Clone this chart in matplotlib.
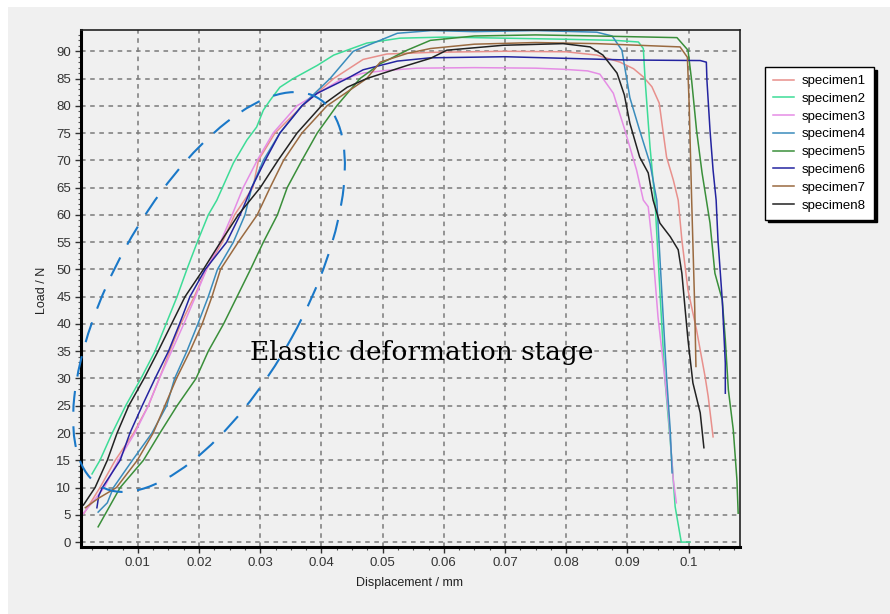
import matplotlib
matplotlib.use("Agg")
import matplotlib.pyplot as plt
from matplotlib.patches import Ellipse, Rectangle
from matplotlib.transforms import IdentityTransform
from matplotlib.ticker import MultipleLocator

# ---------------- data ----------------
labels = ["specimen1", "specimen2", "specimen3", "specimen4",
          "specimen5", "specimen6", "specimen7", "specimen8"]
colors = ["#e8908c", "#3ddc97", "#e58de5", "#3a8cbc",
          "#3a8f3a", "#2424a0", "#9a6a40", "#222222"]

x1 = [0.0012, 0.0038, 0.0063, 0.0093, 0.0117, 0.0135, 0.0152, 0.017, 0.0192, 0.0212, 0.0238, 0.0258,
      0.0288, 0.0297, 0.0324, 0.0369, 0.042, 0.0468, 0.0507, 0.058, 0.07, 0.08, 0.085, 0.0888, 0.091,
      0.0926, 0.094, 0.0952, 0.0958, 0.0964, 0.0975, 0.0983, 0.0989, 0.0999, 0.1013, 0.1027, 0.1032, 0.104]
y1 = [5.3, 10, 15, 20, 25, 30, 35, 40, 45, 50, 55, 60,
      65, 70, 75, 80, 85, 88.5, 89.5, 89.8, 90, 89.9, 89.3, 88, 86.8,
      85.3, 83.5, 80.5, 75.5, 70.6, 66.4, 62.7, 55.4, 46.2, 38.9, 30.3, 26.7, 19.3]

x2 = [0.0025, 0.0038, 0.0058, 0.008, 0.0105, 0.0128, 0.0146, 0.0164, 0.018, 0.0197, 0.0215, 0.0229,
      0.0256, 0.0278, 0.0294, 0.0305, 0.0316, 0.0332, 0.0354, 0.0393, 0.042, 0.0474, 0.0528, 0.06,
      0.07, 0.08, 0.088, 0.0918, 0.0926, 0.0929, 0.0937, 0.0945, 0.0953, 0.0961, 0.0973, 0.0978,
      0.0988, 0.1002]
y2 = [12.5, 15, 20, 25, 30, 35, 40, 45, 50, 55, 60, 62.7,
      69.5, 73.7, 76.1, 79.2, 81, 83.4, 85, 87.4, 89.3, 91.5, 92.4, 92.6,
      92.4, 92.2, 92, 91.7, 90.5, 84.6, 72.4, 62.7, 46.2, 30.3, 14.5, 6.5,
      0, 0]

x3 = [0.0009, 0.0045, 0.0068, 0.0095, 0.0117, 0.0135, 0.0155, 0.0175, 0.0194, 0.0212, 0.0235, 0.0254,
      0.0272, 0.0295, 0.0321, 0.036, 0.043, 0.0468, 0.0507, 0.0556, 0.065, 0.075, 0.0795, 0.0835,
      0.0855, 0.0877, 0.0896, 0.0915, 0.0926, 0.0934, 0.094, 0.095, 0.0961, 0.0967, 0.0975, 0.098]
y3 = [5, 10, 15, 20, 25, 30, 35, 40, 45, 50, 55, 60,
      65, 70, 75, 80, 84.7, 86, 86.5, 86.9, 87, 86.9, 86.7, 86.4,
      85.8, 82.3, 75.5, 68.2, 62.7, 61.5, 55.4, 41.3, 30.3, 23.7, 11.4, 7.2]

x4 = [0.0035, 0.005, 0.006, 0.0091, 0.0123, 0.0147, 0.016, 0.018, 0.0198, 0.0215, 0.023, 0.0256,
      0.0275, 0.0286, 0.0305, 0.0332, 0.0368, 0.0414, 0.0452, 0.0524, 0.058, 0.065, 0.075, 0.085,
      0.0875, 0.0891, 0.0904, 0.092, 0.0937, 0.0948, 0.095, 0.0956, 0.0964, 0.097, 0.0973]
y4 = [5.5, 7.2, 10, 15, 20, 25, 30, 35, 40, 45, 50, 55,
      60, 65, 70, 75, 80, 85, 90, 93.3, 93.8, 93.6, 93.8, 93.5,
      92.8, 90.2, 81.5, 75.5, 69.4, 62.7, 58.5, 46.2, 30.3, 20.5, 12.7]

x5 = [0.0035, 0.0071, 0.0109, 0.0136, 0.0164, 0.0195, 0.0215, 0.024, 0.0262, 0.0284, 0.0305, 0.0328,
      0.0344, 0.0368, 0.0393, 0.0425, 0.0463, 0.0496, 0.054, 0.0578, 0.065, 0.075, 0.085, 0.0981,
      0.0999, 0.1005, 0.1013, 0.1022, 0.1035, 0.1043, 0.1055, 0.106, 0.1065, 0.1073, 0.1079, 0.1081]
y5 = [2.8, 10, 15, 20, 25, 30, 35, 40, 45, 50, 55, 60,
      65, 70, 75, 80, 85, 87.7, 90.2, 92, 92.8, 93, 92.8, 92.5,
      90.2, 84.6, 75.5, 67.7, 58.5, 49.3, 44.4, 37.1, 27.9, 20.6, 11.4, 5.3]

x6 = [0.0033, 0.0036, 0.0042, 0.0071, 0.0087, 0.0107, 0.0128, 0.015, 0.0168, 0.0185, 0.021, 0.0245,
      0.0267, 0.0286, 0.0308, 0.0332, 0.0368, 0.0393, 0.0442, 0.0468, 0.0524, 0.0578, 0.07, 0.08, 0.09,
      0.1019, 0.1029, 0.103, 0.1035, 0.104, 0.1045, 0.1048, 0.1055, 0.106, 0.106]
y6 = [6.3, 8.5, 10, 15, 20, 25, 30, 35, 40, 45, 50, 55,
      60, 65, 70, 75, 80, 82.3, 85, 86.6, 88.2, 88.8, 89, 88.7, 88.4,
      88.3, 88, 84.6, 75.5, 68.2, 62.7, 55.4, 44.4, 32.8, 27.3]

x7 = [0.0014, 0.0035, 0.0065, 0.0099, 0.0125, 0.0144, 0.0163, 0.0185, 0.0205, 0.0221, 0.0235, 0.0264,
      0.0295, 0.0316, 0.0338, 0.0368, 0.0409, 0.0474, 0.0496, 0.054, 0.0578, 0.065, 0.075, 0.085,
      0.0986, 0.0998, 0.1001, 0.1005, 0.101, 0.1012]
y7 = [6.3, 8, 10, 15, 20, 25, 30, 35, 40, 45, 50, 55,
      60, 65, 70, 75, 80, 85, 88, 89.6, 90.5, 91.3, 91.6, 91.4,
      90.8, 88.9, 80, 62.7, 43, 32.2]

x8 = [0.0011, 0.003, 0.005, 0.0066, 0.0085, 0.011, 0.0133, 0.0155, 0.0177, 0.0207, 0.0235, 0.0264,
      0.03, 0.0329, 0.036, 0.04, 0.0442, 0.0474, 0.054, 0.0578, 0.0605, 0.0697, 0.0795, 0.0839, 0.086,
      0.0883, 0.0895, 0.0904, 0.092, 0.0934, 0.0942, 0.0953, 0.097, 0.0983, 0.0989, 0.0994, 0.0999,
      0.1007, 0.1019, 0.1025]
y8 = [6.8, 10, 15, 20, 25, 30, 35, 40, 45, 50, 55, 60,
      65, 70, 75, 80, 83.4, 85, 87.4, 88.7, 90.2, 91.1, 91.4, 90.8, 89.3,
      86, 82, 76.8, 70.6, 67.7, 62.7, 58.5, 56, 53.6, 49.3, 43.1, 37.1,
      29.2, 23.7, 17.3]

xs = [x1, x2, x3, x4, x5, x6, x7, x8]
ys = [y1, y2, y3, y4, y5, y6, y7, y8]

x_ticks = [0.01, 0.02, 0.03, 0.04, 0.05, 0.06, 0.07, 0.08, 0.09, 0.1]
x_ticklabels = ["0.01", "0.02", "0.03", "0.04", "0.05", "0.06", "0.07", "0.08", "0.09", "0.1"]
y_ticks = list(range(0, 95, 5))
annotation = "Elastic deformation stage"

# ---------------- figure ----------------
W, H = 890, 614
fig = plt.figure(figsize=(W / 100, H / 100), dpi=100, facecolor="white")
fig.patches.append(Rectangle((8 / W, 0), 1, (H - 7) / H, transform=fig.transFigure,
                             facecolor="#f0f0f0", edgecolor="none", zorder=-10))

ax = fig.add_axes([81 / W, (H - 547) / H, (740 - 81) / W, (547 - 30) / H])
ax.set_facecolor("#f0f0f0")

for x, y, c, lab in zip(xs, ys, colors, labels):
    ax.plot(x, y, color=c, lw=1.1, label=lab)

ax.set_xlim(0.0007, 0.1084)
ax.set_ylim(-0.9, 93.9)
ax.set_xticks(x_ticks)
ax.set_xticklabels(x_ticklabels)
ax.set_yticks(y_ticks)
ax.xaxis.set_minor_locator(MultipleLocator(0.0025))
ax.yaxis.set_minor_locator(MultipleLocator(1))

ax.grid(True, which="major", color="#7a7a7a", linestyle=(0, (3, 3)), linewidth=1.1)
ax.set_axisbelow(True)

for side in ["left", "bottom"]:
    ax.spines[side].set_linewidth(2.2)
    ax.spines[side].set_color("black")
for side in ["top", "right"]:
    ax.spines[side].set_linewidth(1.2)
    ax.spines[side].set_color("#222222")

ax.tick_params(which="major", direction="out", length=4, width=1, colors="#333333",
               labelcolor="#333333", pad=3)
ax.tick_params(which="minor", direction="out", length=2.5, width=0.8, colors="#555555")
for lbl in ax.get_xticklabels() + ax.get_yticklabels():
    lbl.set_fontfamily("Liberation Sans")
    lbl.set_fontsize(9.5)

fig.text(410 / W, 1 - 583 / H, "Displacement / mm", ha="center", va="center",
         family="Liberation Sans", size=9, color="#222222")
fig.text(42 / W, 1 - 290 / H, "Load / N", ha="center", va="center", rotation=90,
         family="Liberation Sans", size=9, color="#222222")

# annotation text
ax.text(0.02835, 33.4, annotation, ha="left", va="baseline",
        family="DejaVu Serif", size=19, color="black", zorder=6)

# dashed ellipse (in pixel coordinates)
ell = Ellipse((209, H - 292), width=445, height=189, angle=61,
              transform=IdentityTransform(), fill=False, edgecolor="#1a78c8",
              linewidth=1.5, linestyle=(0, (10, 7)), clip_on=False, zorder=5)
ax.add_artist(ell)

# legend
leg = fig.legend(loc="upper left", bbox_to_anchor=(765 / W, 1 - 67 / H),
                 borderaxespad=0, frameon=True, fancybox=False,
                 shadow={"color": "black", "alpha": 1.0},
                 edgecolor="black", facecolor="white", framealpha=1,
                 prop={"family": "Liberation Sans", "size": 9.5},
                 handlelength=1.6, handletextpad=0.6, labelspacing=0.42,
                 borderpad=0.6)
leg.get_frame().set_linewidth(1.0)

fig.savefig("out.png", dpi=100, facecolor=fig.get_facecolor())
